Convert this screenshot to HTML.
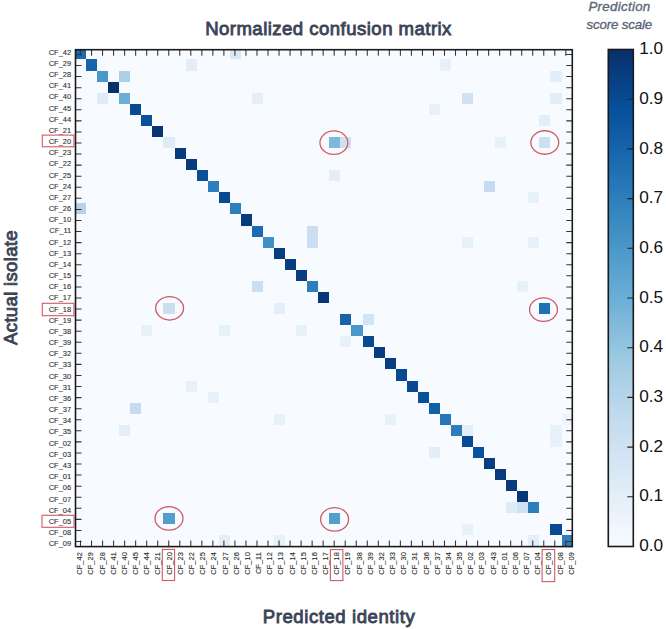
<!DOCTYPE html><html><head><meta charset="utf-8"><style>html,body{margin:0;padding:0;background:#fff;}svg{display:block;}text{font-family:"Liberation Sans",sans-serif;}</style></head><body>
<svg width="666" height="629" viewBox="0 0 666 629">
<defs><clipPath id="ax"><rect x="75.50" y="49.70" width="496.80" height="496.90"/></clipPath>
<linearGradient id="cb" x1="0" y1="0" x2="0" y2="1"><stop offset="0.0000" stop-color="#08306b"/><stop offset="0.1250" stop-color="#08519c"/><stop offset="0.2500" stop-color="#2171b5"/><stop offset="0.3750" stop-color="#4292c6"/><stop offset="0.5000" stop-color="#6baed6"/><stop offset="0.6250" stop-color="#9ecae1"/><stop offset="0.7500" stop-color="#c6dbef"/><stop offset="0.8750" stop-color="#deebf7"/><stop offset="1.0000" stop-color="#f7fbff"/></linearGradient></defs>
<rect x="75.50" y="49.70" width="496.80" height="496.90" fill="#f7fbff"/>
<g clip-path="url(#ax)" shape-rendering="crispEdges">
<rect x="75.04" y="48.40" width="11.06" height="11.07" fill="#1b69af"/>
<rect x="229.82" y="48.40" width="11.06" height="11.07" fill="#d9e8f5"/>
<rect x="86.10" y="59.47" width="11.06" height="11.07" fill="#1764ab"/>
<rect x="185.60" y="59.47" width="11.06" height="11.07" fill="#e3eef9"/>
<rect x="439.89" y="59.47" width="11.06" height="11.07" fill="#e7f1fa"/>
<rect x="97.15" y="70.54" width="11.06" height="11.07" fill="#4a98c9"/>
<rect x="119.26" y="70.54" width="11.06" height="11.07" fill="#acd0e6"/>
<rect x="550.45" y="70.54" width="11.06" height="11.07" fill="#e3eef9"/>
<rect x="108.21" y="81.61" width="11.06" height="11.07" fill="#08306b"/>
<rect x="97.15" y="92.68" width="11.06" height="11.07" fill="#dfecf7"/>
<rect x="119.26" y="92.68" width="11.06" height="11.07" fill="#6baed6"/>
<rect x="251.94" y="92.68" width="11.06" height="11.07" fill="#e3eef9"/>
<rect x="462.00" y="92.68" width="11.06" height="11.07" fill="#d0e1f2"/>
<rect x="550.45" y="92.68" width="11.06" height="11.07" fill="#e3eef9"/>
<rect x="130.32" y="103.75" width="11.06" height="11.07" fill="#084a92"/>
<rect x="428.83" y="103.75" width="11.06" height="11.07" fill="#e7f1fa"/>
<rect x="141.38" y="114.82" width="11.06" height="11.07" fill="#08509a"/>
<rect x="539.39" y="114.82" width="11.06" height="11.07" fill="#e3eef9"/>
<rect x="152.43" y="125.89" width="11.06" height="11.07" fill="#083573"/>
<rect x="163.49" y="136.96" width="11.06" height="11.07" fill="#dfecf7"/>
<rect x="329.33" y="136.96" width="11.06" height="11.07" fill="#7fb9da"/>
<rect x="340.38" y="136.96" width="11.06" height="11.07" fill="#d0e1f2"/>
<rect x="495.17" y="136.96" width="11.06" height="11.07" fill="#e7f1fa"/>
<rect x="539.39" y="136.96" width="11.06" height="11.07" fill="#ccdff1"/>
<rect x="174.54" y="148.03" width="11.06" height="11.07" fill="#083b7b"/>
<rect x="185.60" y="159.10" width="11.06" height="11.07" fill="#083b7b"/>
<rect x="196.66" y="170.17" width="11.06" height="11.07" fill="#08509a"/>
<rect x="329.33" y="170.17" width="11.06" height="11.07" fill="#e3eef9"/>
<rect x="207.71" y="181.24" width="11.06" height="11.07" fill="#2e7ebc"/>
<rect x="484.11" y="181.24" width="11.06" height="11.07" fill="#c6dbef"/>
<rect x="218.77" y="192.31" width="11.06" height="11.07" fill="#084a92"/>
<rect x="528.34" y="192.31" width="11.06" height="11.07" fill="#e7f1fa"/>
<rect x="75.04" y="203.38" width="11.06" height="11.07" fill="#b6d4e9"/>
<rect x="229.82" y="203.38" width="11.06" height="11.07" fill="#2e7ebc"/>
<rect x="240.88" y="214.45" width="11.06" height="11.07" fill="#083b7b"/>
<rect x="251.94" y="225.52" width="11.06" height="11.07" fill="#1d6cb1"/>
<rect x="307.22" y="225.52" width="11.06" height="11.07" fill="#ccdff1"/>
<rect x="262.99" y="236.59" width="11.06" height="11.07" fill="#4191c5"/>
<rect x="307.22" y="236.59" width="11.06" height="11.07" fill="#ccdff1"/>
<rect x="462.00" y="236.59" width="11.06" height="11.07" fill="#e7f1fa"/>
<rect x="528.34" y="236.59" width="11.06" height="11.07" fill="#e7f1fa"/>
<rect x="274.05" y="247.66" width="11.06" height="11.07" fill="#083d7f"/>
<rect x="285.10" y="258.73" width="11.06" height="11.07" fill="#083d7f"/>
<rect x="296.16" y="269.80" width="11.06" height="11.07" fill="#083d7f"/>
<rect x="251.94" y="280.87" width="11.06" height="11.07" fill="#ccdff1"/>
<rect x="307.22" y="280.87" width="11.06" height="11.07" fill="#2e7ebc"/>
<rect x="517.28" y="280.87" width="11.06" height="11.07" fill="#e7f1fa"/>
<rect x="318.27" y="291.94" width="11.06" height="11.07" fill="#083573"/>
<rect x="163.49" y="303.01" width="11.06" height="11.07" fill="#ccdff1"/>
<rect x="274.05" y="303.01" width="11.06" height="11.07" fill="#e3eef9"/>
<rect x="539.39" y="303.01" width="11.06" height="11.07" fill="#2171b5"/>
<rect x="340.38" y="314.08" width="11.06" height="11.07" fill="#1764ab"/>
<rect x="362.50" y="314.08" width="11.06" height="11.07" fill="#d3e4f3"/>
<rect x="141.38" y="325.15" width="11.06" height="11.07" fill="#e7f1fa"/>
<rect x="218.77" y="325.15" width="11.06" height="11.07" fill="#e7f1fa"/>
<rect x="296.16" y="325.15" width="11.06" height="11.07" fill="#e7f1fa"/>
<rect x="351.44" y="325.15" width="11.06" height="11.07" fill="#4a98c9"/>
<rect x="340.38" y="336.22" width="11.06" height="11.07" fill="#e7f1fa"/>
<rect x="362.50" y="336.22" width="11.06" height="11.07" fill="#084a92"/>
<rect x="373.55" y="347.29" width="11.06" height="11.07" fill="#083d7f"/>
<rect x="384.61" y="358.36" width="11.06" height="11.07" fill="#083d7f"/>
<rect x="395.66" y="369.43" width="11.06" height="11.07" fill="#084a92"/>
<rect x="185.60" y="380.50" width="11.06" height="11.07" fill="#e7f1fa"/>
<rect x="406.72" y="380.50" width="11.06" height="11.07" fill="#084a92"/>
<rect x="207.71" y="391.57" width="11.06" height="11.07" fill="#e7f1fa"/>
<rect x="417.78" y="391.57" width="11.06" height="11.07" fill="#08509a"/>
<rect x="130.32" y="402.64" width="11.06" height="11.07" fill="#c6dbef"/>
<rect x="428.83" y="402.64" width="11.06" height="11.07" fill="#135fa7"/>
<rect x="274.05" y="413.71" width="11.06" height="11.07" fill="#e7f1fa"/>
<rect x="384.61" y="413.71" width="11.06" height="11.07" fill="#e7f1fa"/>
<rect x="439.89" y="413.71" width="11.06" height="11.07" fill="#2676b8"/>
<rect x="561.50" y="413.71" width="11.06" height="11.07" fill="#edf5fc"/>
<rect x="119.26" y="424.78" width="11.06" height="11.07" fill="#e3eef9"/>
<rect x="450.94" y="424.78" width="11.06" height="11.07" fill="#2e7ebc"/>
<rect x="462.00" y="424.78" width="11.06" height="11.07" fill="#e3eef9"/>
<rect x="550.45" y="424.78" width="11.06" height="11.07" fill="#e7f1fa"/>
<rect x="462.00" y="435.85" width="11.06" height="11.07" fill="#084a92"/>
<rect x="550.45" y="435.85" width="11.06" height="11.07" fill="#e7f1fa"/>
<rect x="428.83" y="446.92" width="11.06" height="11.07" fill="#e3eef9"/>
<rect x="473.06" y="446.92" width="11.06" height="11.07" fill="#09529d"/>
<rect x="484.11" y="457.99" width="11.06" height="11.07" fill="#083d7f"/>
<rect x="495.17" y="469.06" width="11.06" height="11.07" fill="#083b7b"/>
<rect x="506.22" y="480.13" width="11.06" height="11.07" fill="#083b7b"/>
<rect x="517.28" y="491.20" width="11.06" height="11.07" fill="#083573"/>
<rect x="506.22" y="502.27" width="11.06" height="11.07" fill="#dfecf7"/>
<rect x="517.28" y="502.27" width="11.06" height="11.07" fill="#d0e1f2"/>
<rect x="528.34" y="502.27" width="11.06" height="11.07" fill="#2e7ebc"/>
<rect x="163.49" y="513.34" width="11.06" height="11.07" fill="#549ecd"/>
<rect x="329.33" y="513.34" width="11.06" height="11.07" fill="#549ecd"/>
<rect x="462.00" y="524.41" width="11.06" height="11.07" fill="#e7f1fa"/>
<rect x="550.45" y="524.41" width="11.06" height="11.07" fill="#084a92"/>
<rect x="218.77" y="535.48" width="11.06" height="11.07" fill="#e3eef9"/>
<rect x="274.05" y="535.48" width="11.06" height="11.07" fill="#e7f1fa"/>
<rect x="528.34" y="535.48" width="11.06" height="11.07" fill="#e3eef9"/>
<rect x="561.50" y="535.48" width="11.06" height="11.07" fill="#2e7ebc"/>
</g>
<path d="M80.50 49.70v6M80.50 546.60v-6M75.50 54.44h6M572.30 54.44h-6M91.53 49.70v6M91.53 546.60v-6M75.50 65.50h6M572.30 65.50h-6M102.56 49.70v6M102.56 546.60v-6M75.50 76.58h6M572.30 76.58h-6M113.59 49.70v6M113.59 546.60v-6M75.50 87.65h6M572.30 87.65h-6M124.62 49.70v6M124.62 546.60v-6M75.50 98.72h6M572.30 98.72h-6M135.65 49.70v6M135.65 546.60v-6M75.50 109.78h6M572.30 109.78h-6M146.68 49.70v6M146.68 546.60v-6M75.50 120.85h6M572.30 120.85h-6M157.71 49.70v6M157.71 546.60v-6M75.50 131.93h6M572.30 131.93h-6M168.74 49.70v6M168.74 546.60v-6M75.50 143.00h6M572.30 143.00h-6M179.77 49.70v6M179.77 546.60v-6M75.50 154.06h6M572.30 154.06h-6M190.80 49.70v6M190.80 546.60v-6M75.50 165.13h6M572.30 165.13h-6M201.83 49.70v6M201.83 546.60v-6M75.50 176.21h6M572.30 176.21h-6M212.86 49.70v6M212.86 546.60v-6M75.50 187.28h6M572.30 187.28h-6M223.89 49.70v6M223.89 546.60v-6M75.50 198.34h6M572.30 198.34h-6M234.92 49.70v6M234.92 546.60v-6M75.50 209.42h6M572.30 209.42h-6M245.95 49.70v6M245.95 546.60v-6M75.50 220.49h6M572.30 220.49h-6M256.98 49.70v6M256.98 546.60v-6M75.50 231.56h6M572.30 231.56h-6M268.01 49.70v6M268.01 546.60v-6M75.50 242.62h6M572.30 242.62h-6M279.04 49.70v6M279.04 546.60v-6M75.50 253.70h6M572.30 253.70h-6M290.07 49.70v6M290.07 546.60v-6M75.50 264.76h6M572.30 264.76h-6M301.10 49.70v6M301.10 546.60v-6M75.50 275.83h6M572.30 275.83h-6M312.13 49.70v6M312.13 546.60v-6M75.50 286.90h6M572.30 286.90h-6M323.16 49.70v6M323.16 546.60v-6M75.50 297.98h6M572.30 297.98h-6M334.19 49.70v6M334.19 546.60v-6M75.50 309.04h6M572.30 309.04h-6M345.22 49.70v6M345.22 546.60v-6M75.50 320.12h6M572.30 320.12h-6M356.25 49.70v6M356.25 546.60v-6M75.50 331.19h6M572.30 331.19h-6M367.28 49.70v6M367.28 546.60v-6M75.50 342.25h6M572.30 342.25h-6M378.31 49.70v6M378.31 546.60v-6M75.50 353.32h6M572.30 353.32h-6M389.34 49.70v6M389.34 546.60v-6M75.50 364.39h6M572.30 364.39h-6M400.37 49.70v6M400.37 546.60v-6M75.50 375.46h6M572.30 375.46h-6M411.40 49.70v6M411.40 546.60v-6M75.50 386.53h6M572.30 386.53h-6M422.43 49.70v6M422.43 546.60v-6M75.50 397.60h6M572.30 397.60h-6M433.46 49.70v6M433.46 546.60v-6M75.50 408.68h6M572.30 408.68h-6M444.49 49.70v6M444.49 546.60v-6M75.50 419.75h6M572.30 419.75h-6M455.52 49.70v6M455.52 546.60v-6M75.50 430.81h6M572.30 430.81h-6M466.55 49.70v6M466.55 546.60v-6M75.50 441.88h6M572.30 441.88h-6M477.58 49.70v6M477.58 546.60v-6M75.50 452.95h6M572.30 452.95h-6M488.61 49.70v6M488.61 546.60v-6M75.50 464.02h6M572.30 464.02h-6M499.64 49.70v6M499.64 546.60v-6M75.50 475.09h6M572.30 475.09h-6M510.67 49.70v6M510.67 546.60v-6M75.50 486.16h6M572.30 486.16h-6M521.70 49.70v6M521.70 546.60v-6M75.50 497.24h6M572.30 497.24h-6M532.73 49.70v6M532.73 546.60v-6M75.50 508.31h6M572.30 508.31h-6M543.76 49.70v6M543.76 546.60v-6M75.50 519.38h6M572.30 519.38h-6M554.79 49.70v6M554.79 546.60v-6M75.50 530.45h6M572.30 530.45h-6M565.82 49.70v6M565.82 546.60v-6M75.50 541.51h6M572.30 541.51h-6" stroke="#333" stroke-width="1.05" fill="none"/>
<rect x="75.50" y="49.70" width="496.80" height="496.90" fill="none" stroke="#1a1a1a" stroke-width="1.6"/>
<g font-size="8" fill="#2e2e2e" stroke="#2e2e2e" stroke-width="0.1" text-anchor="end">
<text transform="translate(71.2,54.70) scale(0.94,1)">CF_42</text>
<text transform="translate(71.2,65.87) scale(0.94,1)">CF_29</text>
<text transform="translate(71.2,77.04) scale(0.94,1)">CF_28</text>
<text transform="translate(71.2,88.21) scale(0.94,1)">CF_41</text>
<text transform="translate(71.2,99.38) scale(0.94,1)">CF_40</text>
<text transform="translate(71.2,110.55) scale(0.94,1)">CF_45</text>
<text transform="translate(71.2,121.72) scale(0.94,1)">CF_44</text>
<text transform="translate(71.2,132.89) scale(0.94,1)">CF_21</text>
<text transform="translate(71.2,144.06) scale(0.94,1)">CF_20</text>
<text transform="translate(71.2,155.23) scale(0.94,1)">CF_23</text>
<text transform="translate(71.2,166.40) scale(0.94,1)">CF_22</text>
<text transform="translate(71.2,177.57) scale(0.94,1)">CF_25</text>
<text transform="translate(71.2,188.74) scale(0.94,1)">CF_24</text>
<text transform="translate(71.2,199.91) scale(0.94,1)">CF_27</text>
<text transform="translate(71.2,211.08) scale(0.94,1)">CF_26</text>
<text transform="translate(71.2,222.25) scale(0.94,1)">CF_10</text>
<text transform="translate(71.2,233.42) scale(0.94,1)">CF_11</text>
<text transform="translate(71.2,244.59) scale(0.94,1)">CF_12</text>
<text transform="translate(71.2,255.76) scale(0.94,1)">CF_13</text>
<text transform="translate(71.2,266.93) scale(0.94,1)">CF_14</text>
<text transform="translate(71.2,278.10) scale(0.94,1)">CF_15</text>
<text transform="translate(71.2,289.27) scale(0.94,1)">CF_16</text>
<text transform="translate(71.2,300.44) scale(0.94,1)">CF_17</text>
<text transform="translate(71.2,311.61) scale(0.94,1)">CF_18</text>
<text transform="translate(71.2,322.78) scale(0.94,1)">CF_19</text>
<text transform="translate(71.2,333.95) scale(0.94,1)">CF_38</text>
<text transform="translate(71.2,345.12) scale(0.94,1)">CF_39</text>
<text transform="translate(71.2,356.29) scale(0.94,1)">CF_32</text>
<text transform="translate(71.2,367.46) scale(0.94,1)">CF_33</text>
<text transform="translate(71.2,378.63) scale(0.94,1)">CF_30</text>
<text transform="translate(71.2,389.80) scale(0.94,1)">CF_31</text>
<text transform="translate(71.2,400.97) scale(0.94,1)">CF_36</text>
<text transform="translate(71.2,412.14) scale(0.94,1)">CF_37</text>
<text transform="translate(71.2,423.31) scale(0.94,1)">CF_34</text>
<text transform="translate(71.2,434.48) scale(0.94,1)">CF_35</text>
<text transform="translate(71.2,445.65) scale(0.94,1)">CF_02</text>
<text transform="translate(71.2,456.82) scale(0.94,1)">CF_03</text>
<text transform="translate(71.2,467.99) scale(0.94,1)">CF_43</text>
<text transform="translate(71.2,479.16) scale(0.94,1)">CF_01</text>
<text transform="translate(71.2,490.33) scale(0.94,1)">CF_06</text>
<text transform="translate(71.2,501.50) scale(0.94,1)">CF_07</text>
<text transform="translate(71.2,512.67) scale(0.94,1)">CF_04</text>
<text transform="translate(71.2,523.84) scale(0.94,1)">CF_05</text>
<text transform="translate(71.2,535.01) scale(0.94,1)">CF_08</text>
<text transform="translate(71.2,546.18) scale(0.94,1)">CF_09</text>
</g>
<g font-size="8" fill="#2e2e2e" stroke="#2e2e2e" stroke-width="0.12" text-anchor="end">
<text transform="translate(82.30,552.2) rotate(-90) scale(0.935,1)">CF_42</text>
<text transform="translate(93.47,552.2) rotate(-90) scale(0.935,1)">CF_29</text>
<text transform="translate(104.64,552.2) rotate(-90) scale(0.935,1)">CF_28</text>
<text transform="translate(115.81,552.2) rotate(-90) scale(0.935,1)">CF_41</text>
<text transform="translate(126.98,552.2) rotate(-90) scale(0.935,1)">CF_40</text>
<text transform="translate(138.15,552.2) rotate(-90) scale(0.935,1)">CF_45</text>
<text transform="translate(149.32,552.2) rotate(-90) scale(0.935,1)">CF_44</text>
<text transform="translate(160.49,552.2) rotate(-90) scale(0.935,1)">CF_21</text>
<text transform="translate(171.66,552.2) rotate(-90) scale(0.935,1)">CF_20</text>
<text transform="translate(182.83,552.2) rotate(-90) scale(0.935,1)">CF_23</text>
<text transform="translate(194.00,552.2) rotate(-90) scale(0.935,1)">CF_22</text>
<text transform="translate(205.17,552.2) rotate(-90) scale(0.935,1)">CF_25</text>
<text transform="translate(216.34,552.2) rotate(-90) scale(0.935,1)">CF_24</text>
<text transform="translate(227.51,552.2) rotate(-90) scale(0.935,1)">CF_27</text>
<text transform="translate(238.68,552.2) rotate(-90) scale(0.935,1)">CF_26</text>
<text transform="translate(249.85,552.2) rotate(-90) scale(0.935,1)">CF_10</text>
<text transform="translate(261.02,552.2) rotate(-90) scale(0.935,1)">CF_11</text>
<text transform="translate(272.19,552.2) rotate(-90) scale(0.935,1)">CF_12</text>
<text transform="translate(283.36,552.2) rotate(-90) scale(0.935,1)">CF_13</text>
<text transform="translate(294.53,552.2) rotate(-90) scale(0.935,1)">CF_14</text>
<text transform="translate(305.70,552.2) rotate(-90) scale(0.935,1)">CF_15</text>
<text transform="translate(316.87,552.2) rotate(-90) scale(0.935,1)">CF_16</text>
<text transform="translate(328.04,552.2) rotate(-90) scale(0.935,1)">CF_17</text>
<text transform="translate(339.21,552.2) rotate(-90) scale(0.935,1)">CF_18</text>
<text transform="translate(350.38,552.2) rotate(-90) scale(0.935,1)">CF_19</text>
<text transform="translate(361.55,552.2) rotate(-90) scale(0.935,1)">CF_38</text>
<text transform="translate(372.72,552.2) rotate(-90) scale(0.935,1)">CF_39</text>
<text transform="translate(383.89,552.2) rotate(-90) scale(0.935,1)">CF_32</text>
<text transform="translate(395.06,552.2) rotate(-90) scale(0.935,1)">CF_33</text>
<text transform="translate(406.23,552.2) rotate(-90) scale(0.935,1)">CF_30</text>
<text transform="translate(417.40,552.2) rotate(-90) scale(0.935,1)">CF_31</text>
<text transform="translate(428.57,552.2) rotate(-90) scale(0.935,1)">CF_36</text>
<text transform="translate(439.74,552.2) rotate(-90) scale(0.935,1)">CF_37</text>
<text transform="translate(450.91,552.2) rotate(-90) scale(0.935,1)">CF_34</text>
<text transform="translate(462.08,552.2) rotate(-90) scale(0.935,1)">CF_35</text>
<text transform="translate(473.25,552.2) rotate(-90) scale(0.935,1)">CF_02</text>
<text transform="translate(484.42,552.2) rotate(-90) scale(0.935,1)">CF_03</text>
<text transform="translate(495.59,552.2) rotate(-90) scale(0.935,1)">CF_43</text>
<text transform="translate(506.76,552.2) rotate(-90) scale(0.935,1)">CF_01</text>
<text transform="translate(517.93,552.2) rotate(-90) scale(0.935,1)">CF_06</text>
<text transform="translate(529.10,552.2) rotate(-90) scale(0.935,1)">CF_07</text>
<text transform="translate(540.27,552.2) rotate(-90) scale(0.935,1)">CF_04</text>
<text transform="translate(551.44,552.2) rotate(-90) scale(0.935,1)">CF_05</text>
<text transform="translate(562.61,552.2) rotate(-90) scale(0.935,1)">CF_08</text>
<text transform="translate(573.78,552.2) rotate(-90) scale(0.935,1)">CF_09</text>
</g>
<rect x="42.3" y="135.1" width="31.60" height="11.70" fill="none" stroke="#d05a66" stroke-width="1.1"/>
<rect x="42.3" y="303.3" width="31.60" height="12.40" fill="none" stroke="#d05a66" stroke-width="1.1"/>
<rect x="42.0" y="515.3" width="32.00" height="12.00" fill="none" stroke="#d05a66" stroke-width="1.1"/>
<rect x="162.3" y="549.4" width="12.30" height="31.10" fill="none" stroke="#d05a66" stroke-width="1.1"/>
<rect x="330.4" y="549.6" width="12.50" height="31.00" fill="none" stroke="#d05a66" stroke-width="1.1"/>
<rect x="542.1" y="549.5" width="12.60" height="32.10" fill="none" stroke="#d05a66" stroke-width="1.1"/>
<ellipse cx="333.90" cy="142.70" rx="13.95" ry="11.75" fill="none" stroke="#d05a66" stroke-width="1.3"/>
<ellipse cx="544.80" cy="142.50" rx="13.95" ry="11.75" fill="none" stroke="#d05a66" stroke-width="1.3"/>
<ellipse cx="169.60" cy="308.30" rx="13.95" ry="11.75" fill="none" stroke="#d05a66" stroke-width="1.3"/>
<ellipse cx="543.50" cy="309.60" rx="13.95" ry="11.75" fill="none" stroke="#d05a66" stroke-width="1.3"/>
<ellipse cx="169.00" cy="518.40" rx="13.95" ry="11.75" fill="none" stroke="#d05a66" stroke-width="1.3"/>
<ellipse cx="334.60" cy="519.40" rx="13.95" ry="11.75" fill="none" stroke="#d05a66" stroke-width="1.3"/>
<text x="328.5" y="34.7" font-size="18.6" fill="#3b4457" stroke="#3b4457" stroke-width="0.85" letter-spacing="0.45" text-anchor="middle">Normalized confusion matrix</text>
<text x="339" y="622.8" font-size="18.6" fill="#3b4457" stroke="#3b4457" stroke-width="0.85" letter-spacing="0.55" text-anchor="middle">Predicted identity</text>
<text transform="translate(17.3,287.5) rotate(-90)" font-size="18.6" fill="#3b4457" stroke="#3b4457" stroke-width="0.85" letter-spacing="0.3" text-anchor="middle">Actual isolate</text>
<rect x="608.3" y="49.5" width="25.00" height="497.00" fill="url(#cb)"/>
<path d="M633.30 546.50h-6M633.30 496.80h-6M633.30 447.10h-6M633.30 397.40h-6M633.30 347.70h-6M633.30 298.00h-6M633.30 248.30h-6M633.30 198.60h-6M633.30 148.90h-6M633.30 99.20h-6M633.30 49.50h-6" stroke="#222" stroke-width="1.1" fill="none"/>
<rect x="608.3" y="49.5" width="25.00" height="497.00" fill="none" stroke="#1a1a1a" stroke-width="1.6"/>
<g font-size="17.2" fill="#111">
<text x="639.2" y="551.10">0.0</text>
<text x="639.2" y="501.40">0.1</text>
<text x="639.2" y="451.70">0.2</text>
<text x="639.2" y="402.00">0.3</text>
<text x="639.2" y="352.30">0.4</text>
<text x="639.2" y="302.60">0.5</text>
<text x="639.2" y="252.90">0.6</text>
<text x="639.2" y="203.20">0.7</text>
<text x="639.2" y="153.50">0.8</text>
<text x="639.2" y="103.80">0.9</text>
<text x="639.2" y="54.10">1.0</text>
</g>
<text x="619.5" y="11.2" font-size="13.3" font-style="italic" fill="#5d6577" stroke="#5d6577" stroke-width="0.35" letter-spacing="0.3" text-anchor="middle">Prediction</text>
<text x="619.3" y="29.4" font-size="13.3" font-style="italic" fill="#5d6577" stroke="#5d6577" stroke-width="0.35" letter-spacing="-0.15" text-anchor="middle">score scale</text>
</svg></body></html>
